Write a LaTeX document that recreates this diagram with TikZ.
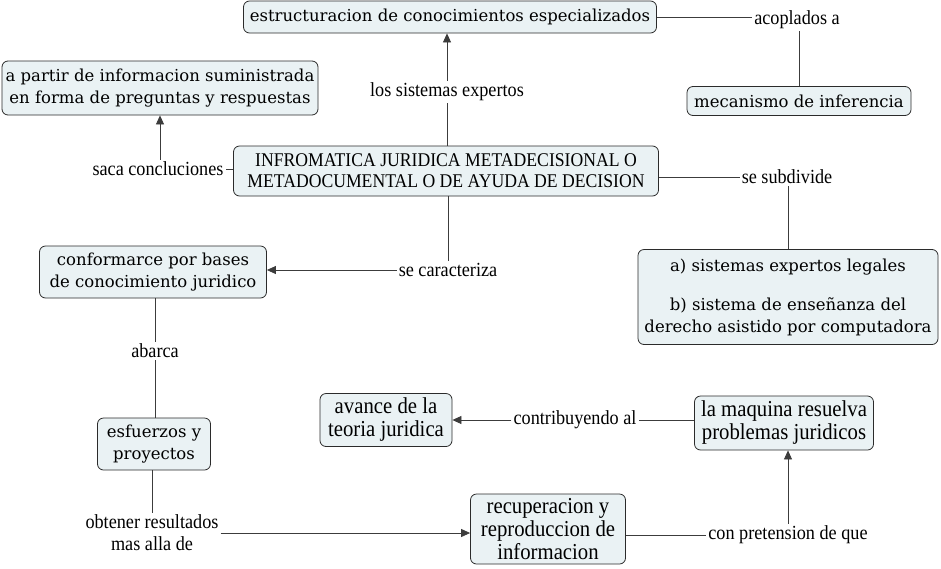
\documentclass[tikz,border=0pt]{standalone}
\usepackage{fontspec}
\setmainfont{DejaVu Serif}
\newfontfamily\narrowserif[FakeStretch=0.91]{Liberation Serif}
\usepackage{tikz}
\usetikzlibrary{arrows.meta, positioning, calc}
\definecolor{boxfill}{HTML}{EAF2F4}
\definecolor{boxline}{HTML}{2B2B2B}
\definecolor{linkline}{HTML}{3C3C3C}

\begin{document}
\begin{tikzpicture}[x=1pt, y=-1pt,
  concept/.style={rectangle, draw=boxline, fill=boxfill, line width=0.8pt,
    rounded corners=6pt, align=center, inner sep=2pt,
    font=\fontsize{16.5}{22}\selectfont},
  titleconcept/.style={concept, font=\narrowserif\fontsize{19.4}{21}\selectfont},
  narrowconcept/.style={concept, font=\narrowserif\fontsize{22.8}{23}\selectfont},
  linklabel/.style={inner sep=2pt, align=center,
    font=\narrowserif\fontsize{20}{22}\selectfont},
  link/.style={draw=linkline, line width=0.8pt},
  arrowlink/.style={link, -{Triangle[length=9pt, width=8pt]}},
]
  \useasboundingbox (0,0) rectangle (941,568);

  % Central concept
  \node[titleconcept, minimum width=425pt, minimum height=50pt] (infro)
    at (446,171) {INFROMATICA JURIDICA METADECISIONAL O\\METADOCUMENTAL O DE AYUDA DE DECISION};

  % Upper concepts
  \node[concept, minimum width=413pt, minimum height=32pt] (estr)
    at (450,17) {estructuracion de conocimientos especializados};
  \node[concept, minimum width=224pt, minimum height=29pt] (meca)
    at (799,101) {mecanismo de inferencia};
  \node[concept, minimum width=316pt, minimum height=54pt] (partir)
    at (160,88) {a partir de informacion suministrada\\en forma de preguntas y respuestas};

  % Middle concepts
  \node[concept, minimum width=227pt, minimum height=52pt] (conform)
    at (153,272) {conformarce por bases\\de conocimiento juridico};
  \node[concept, minimum width=300pt, minimum height=95pt] (subdiv)
    at (788,297) {a) sistemas expertos legales\\[17pt]b) sistema de enseñanza del\\derecho asistido por computadora};

  % Lower concepts
  \node[concept, minimum width=113pt, minimum height=52pt] (esfuer)
    at (154,444) {esfuerzos y\\proyectos};
  \node[narrowconcept, minimum width=132pt, minimum height=53pt] (avance)
    at (386,420) {avance de la\\teoria juridica};
  \node[narrowconcept, minimum width=179pt, minimum height=54pt] (maquina)
    at (784,423) {la maquina resuelva\\problemas juridicos};
  \node[narrowconcept, minimum width=155pt, minimum height=70pt] (recup)
    at (548,529) {recuperacion y\\reproduccion de\\informacion};

  % Linking phrases
  \node[linklabel] (sisexp) at (447,92) {los sistemas expertos};
  \node[linklabel] (acopl) at (797,20) {acoplados a};
  \node[linklabel] (saca) at (158,169) {saca concluciones};
  \node[linklabel] (subdivide) at (787,177) {se subdivide};
  \node[linklabel] (caract) at (448,270) {se caracteriza};
  \node[linklabel] (abarca) at (155,351) {abarca};
  \node[linklabel] (obtener) at (152,533) {obtener resultados\\mas alla de};
  \node[linklabel] (pretension) at (788,535) {con pretension de que};
  \node[linklabel] (contrib) at (575,420) {contribuyendo al};

  % Connectors
  \draw[link] (infro.north -| sisexp) -- (sisexp.south);
  \draw[arrowlink] (sisexp.north) -- (estr.south -| sisexp);
  \draw[link] (estr.east) -- (acopl.west |- estr.east);
  \draw[link] (acopl.south -| meca) -- (meca.north);
  \draw[link] (infro.west |- saca) -- (saca.east);
  \draw[arrowlink] (saca.north -| partir) -- (partir.south);
  \draw[link] (infro.east |- subdivide) -- (subdivide.west);
  \draw[link] (subdivide.south -| subdiv) -- (subdiv.north);
  \draw[link] (infro.south -| caract) -- (caract.north);
  \draw[arrowlink] (caract.west) -- (conform.east |- caract);
  \draw[link] (conform.south -| abarca) -- (abarca.north);
  \draw[link] (abarca.south) -- (esfuer.north -| abarca);
  \draw[link] (esfuer.south -| obtener) -- (obtener.north);
  \draw[arrowlink] (obtener.east) -- (recup.west |- obtener);
  \draw[link] (recup.east |- pretension) -- (pretension.west);
  \draw[arrowlink] (pretension.north) -- (maquina.south -| pretension);
  \draw[link] (maquina.west |- contrib) -- (contrib.east);
  \draw[arrowlink] (contrib.west) -- (avance.east |- contrib);
\end{tikzpicture}
\end{document}
